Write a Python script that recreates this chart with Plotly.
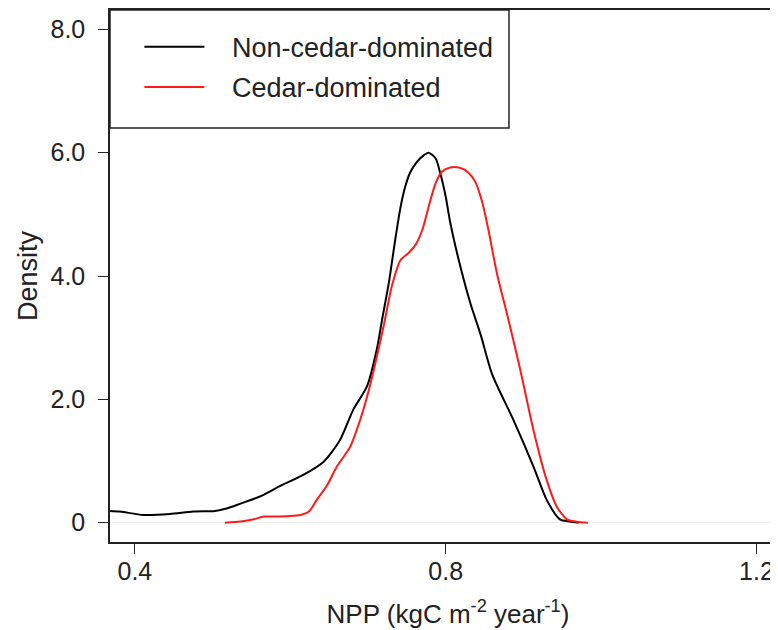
import plotly.graph_objects as go

# Non-cedar-dominated density curve
noncedar_x = [0.368, 0.381, 0.411, 0.445, 0.475, 0.503, 0.518, 0.536, 0.562, 0.589, 0.613, 0.643,
              0.664, 0.681, 0.699, 0.712, 0.718, 0.727, 0.735, 0.742, 0.748, 0.754, 0.763, 0.772,
              0.778, 0.787, 0.793, 0.800, 0.806, 0.819, 0.832, 0.845, 0.860, 0.887, 0.913, 0.930,
              0.947, 0.960, 0.971]
noncedar_y = [0.19, 0.18, 0.125, 0.14, 0.18, 0.19, 0.23, 0.31, 0.43, 0.61, 0.75, 0.99,
              1.34, 1.83, 2.22, 2.85, 3.28, 3.90, 4.58, 5.12, 5.45, 5.67, 5.85, 5.96,
              6.00, 5.91, 5.67, 5.29, 4.86, 4.15, 3.55, 3.05, 2.40, 1.67, 0.91, 0.37,
              0.055, 0.02, 0.0]

# Cedar-dominated density curve
cedar_x = [0.516, 0.536, 0.553, 0.566, 0.587, 0.613, 0.624, 0.634, 0.647, 0.660, 0.677, 0.690,
           0.699, 0.707, 0.720, 0.731, 0.742, 0.752, 0.761, 0.770, 0.778, 0.787, 0.795, 0.806,
           0.819, 0.829, 0.838, 0.847, 0.855, 0.866, 0.881, 0.896, 0.913, 0.930, 0.943, 0.956,
           0.969, 0.983]
cedar_y = [0.0, 0.02, 0.055, 0.1, 0.1, 0.125, 0.18, 0.37, 0.60, 0.91, 1.23, 1.67,
           2.05, 2.45, 3.18, 3.85, 4.26, 4.37, 4.50, 4.75, 5.12, 5.50, 5.69, 5.76,
           5.75, 5.68, 5.53, 5.20, 4.75, 4.04, 3.28, 2.48, 1.50, 0.69, 0.26, 0.055,
           0.016, 0.0]

x_tick_vals = [0.4, 0.8, 1.2]
x_tick_text = ["0.4", "0.8", "1.2"]
y_tick_vals = [0, 2, 4, 6, 8]
y_tick_text = ["0", "2.0", "4.0", "6.0", "8.0"]

FONT = "Arial, 'Liberation Sans', sans-serif"
SP = "\u00a0\u00a0\u00a0"

fig = go.Figure()
fig.add_trace(go.Scatter(x=noncedar_x, y=noncedar_y, mode="lines", name=SP + "Non-cedar-dominated",
                         legendgroup="a",
                         line=dict(color="black", width=2, shape="spline", smoothing=0.7)))
fig.add_trace(go.Scatter(x=cedar_x, y=cedar_y, mode="lines", name=SP + "Cedar-dominated",
                         legendgroup="b",
                         line=dict(color="#ff1a1a", width=2, shape="spline", smoothing=0.7)))

# legend frame (paper coordinates of the plot area: 676 px wide, 532 px tall)
fig.add_shape(type="rect", xref="paper", yref="paper", x0=0, x1=399 / 676, y0=1 - 118 / 532, y1=1,
              line=dict(color="#222", width=1.5), fillcolor="rgba(0,0,0,0)", layer="above")

fig.update_layout(
    width=778, height=630,
    margin=dict(l=102, r=0, t=2, b=96),
    paper_bgcolor="white", plot_bgcolor="white",
    font=dict(family=FONT, size=25, color="#222"),
    showlegend=True,
    legend=dict(x=30 / 676 * 0.98, y=0.976, xanchor="left", yanchor="top",
                borderwidth=0, bgcolor="rgba(0,0,0,0)",
                font=dict(size=27, color="#222"),
                itemwidth=60, tracegroupgap=2),
    xaxis=dict(range=[0.368, 1.238], tickvals=x_tick_vals, ticktext=x_tick_text,
               showgrid=False, zeroline=False, showline=True, linecolor="#222", linewidth=1.5,
               mirror=True, ticks="outside", ticklen=10, tickwidth=1.2, tickcolor="#222",
               automargin=False, ticklabelstandoff=-4,
               title=dict(text="NPP (kgC m<sup>-2</sup> year<sup>-1</sup>)", font=dict(size=26),
                          standoff=21)),
    yaxis=dict(range=[-0.313, 8.313], tickvals=y_tick_vals, ticktext=y_tick_text,
               showgrid=False, zeroline=True, zerolinecolor="#efefef", zerolinewidth=1,
               showline=True, linecolor="#222", linewidth=1.5, mirror=False,
               ticks="outside", ticklen=10, tickwidth=1.2, tickcolor="#222",
               automargin=False, ticklabelstandoff=8,
               title=dict(text="Density", font=dict(size=27), standoff=5)),
)

fig.write_html("out.html")
